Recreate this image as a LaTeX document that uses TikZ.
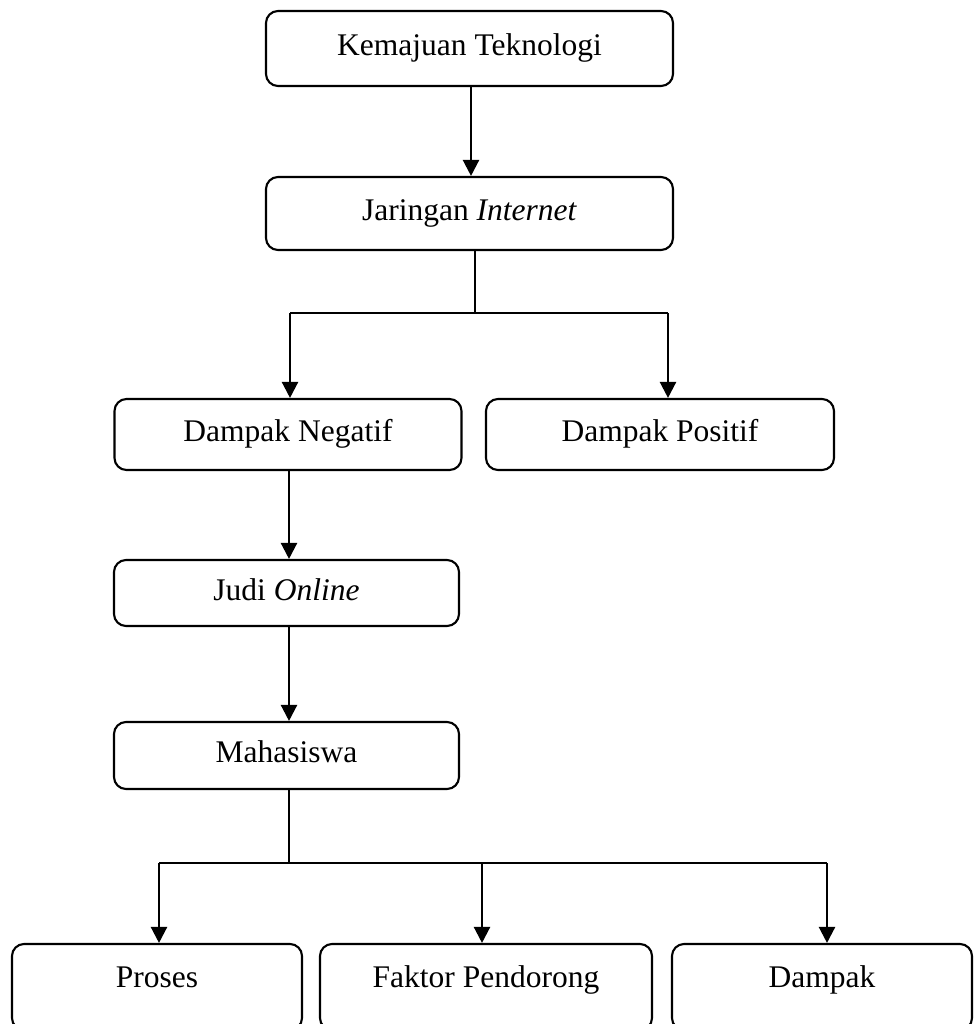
\documentclass[tikz,border=0pt]{standalone}
\usepackage{fontspec}
\setmainfont{Liberation Serif}
\usetikzlibrary{arrows.meta}
\begin{document}
\begin{tikzpicture}[x=1pt,y=-1pt,
 box/.style={draw, line width=2.1pt, rounded corners=12pt, inner sep=0pt,
   text height=22pt, text depth=8pt, font=\fontsize{31.5}{36}\selectfont},
 lowbox/.style={box, anchor=base, text height=43pt, text depth=43pt, minimum height=0pt},
 arr/.style={line width=2.3pt, -{Triangle[length=16pt,width=16pt]}},
 bar/.style={line width=2.1pt},
 thinline/.style={line width=1.4pt}]
\useasboundingbox (0,0) rectangle (974,1024);
\clip (0,0) rectangle (974,1024);

\node[box, minimum width=407pt, minimum height=75pt] (tek) at (469.5,48.5) {Kemajuan Teknologi};
\node[box, minimum width=407pt, minimum height=73pt] (jar) at (469.5,213.5) {Jaringan \textit{Internet}};
\node[box, minimum width=347pt, minimum height=71pt] (neg) at (288,434.5) {Dampak Negatif};
\node[box, minimum width=348pt, minimum height=71pt] (pos) at (660,434.5) {Dampak Positif};
\node[box, minimum width=345pt, minimum height=66pt] (judi) at (286.5,593) {Judi \textit{Online}};
\node[box, minimum width=345pt, minimum height=67pt] (maha) at (286.5,755.5) {Mahasiswa};
\node[lowbox, minimum width=290pt] (pro) at (157,987) {Proses};
\node[lowbox, minimum width=332pt] (fak) at (486,987) {Faktor Pendorong};
\node[lowbox, minimum width=300pt] (dam) at (822,987) {Dampak};

\draw[arr] ([xshift=1.5pt]tek.south) -- ([xshift=1.5pt]tek.south |- jar.north);

\coordinate (j1) at (475,313);
\draw[thinline] (jar.south -| j1) -- (j1);
\draw[bar] ([xshift=2pt]neg.north |- j1) -- ([xshift=8pt]pos.north |- j1);
\draw[arr] ([xshift=2pt]neg.north |- j1) -- ([xshift=2pt]neg.north);
\draw[arr] ([xshift=8pt]pos.north |- j1) -- ([xshift=8pt]pos.north);

\draw[arr] ([xshift=1pt]neg.south) -- ([xshift=1pt]neg.south |- judi.north);
\draw[arr] ([xshift=2.5pt]judi.south) -- ([xshift=2.5pt]judi.south |- maha.north);

\coordinate (j2) at (289,863);
\draw[thinline] (maha.south -| j2) -- (j2);
\draw[bar] ([xshift=2pt]pro.north |- j2) -- ([xshift=5pt]dam.north |- j2);
\draw[arr] ([xshift=2pt]pro.north |- j2) -- ([xshift=2pt]pro.north);
\draw[arr] ([xshift=-4pt]fak.north |- j2) -- ([xshift=-4pt]fak.north);
\draw[arr] ([xshift=5pt]dam.north |- j2) -- ([xshift=5pt]dam.north);
\end{tikzpicture}
\end{document}
